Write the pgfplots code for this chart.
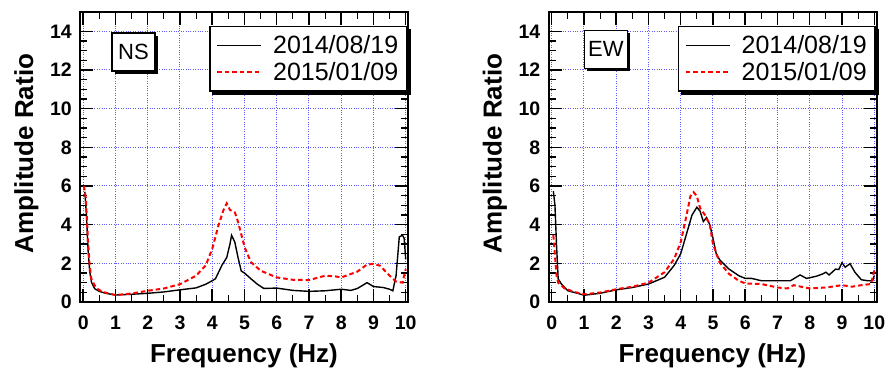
\documentclass[border=0pt]{standalone}
\usepackage{pgfplots}
\pgfplotsset{compat=1.18}
\usepackage{fontspec}
\setmainfont{Liberation Sans}
\usetikzlibrary{shadows}
\definecolor{gridblue}{RGB}{90,90,255}

\tikzset{
 boxlab/.style={draw, line width=1.5pt, fill=white, minimum width=43pt, minimum height=38pt,
   inner sep=2pt, font=\fontsize{22}{22}\selectfont,
   drop shadow={shadow xshift=3pt, shadow yshift=-3pt, fill=black, opacity=1}},
 blk/.style={black, line width=1.4pt},
 rd/.style={red, line width=2pt, dash pattern=on 4.5pt off 3pt},
}

\pgfplotsset{
 myaxis/.style={
  scale only axis, width=328pt, height=290pt,
  xmin=-0.1, xmax=10.07, ymin=0, ymax=15,
  xtick={0,...,10}, ytick={0,2,...,14},
  minor x tick num=1, minor y tick num=3,
  tick align=inside, major tick length=13pt, minor tick length=7pt,
  major tick style={line width=1.5pt, black},
  minor tick style={line width=1.2pt, black},
  axis line style={line width=2pt},
  grid=major, major grid style={gridblue, dotted, line width=1pt},
  /pgf/number format/assume math mode=true,
  ticklabel style={font=\bfseries\fontsize{19.5}{19.5}\selectfont},
  xticklabel style={anchor=base, yshift=-28pt},
  yticklabel style={anchor=east, inner sep=0pt, xshift=-8pt},
  xlabel={Frequency (Hz)}, ylabel={Amplitude Ratio},
  label style={font=\bfseries\fontsize{26}{26}\selectfont},
  xlabel style={at={(axis description cs:0.5,-0.21)}, anchor=base},
  ylabel style={at={(axis description cs:-0.143,0.512)}, anchor=base},
  legend style={at={(0.997,0.952)}, anchor=north east, draw=black, line width=1.5pt, fill=white,
    font=\fontsize{25}{24}\selectfont,
    inner xsep=6pt, inner ysep=7pt, column sep=9pt, row sep=3pt, cells={anchor=west}},
  legend image code/.code={\draw[#1] (0pt,0pt) -- (44pt,0pt);},
 },
}

\pgfplotstableread{
f A
0.05 5.7
0.1 4.5
0.15 2.7
0.2 1.6
0.26 1.0
0.36 0.68
0.5 0.55
0.7 0.45
1.0 0.36
1.5 0.40
2.0 0.45
2.5 0.52
3.0 0.63
3.5 0.73
3.8 0.92
4.0 1.10
4.1 1.20
4.3 1.90
4.45 2.30
4.55 3.00
4.6 3.45
4.7 3.10
4.8 2.30
4.9 1.60
5.0 1.50
5.2 1.20
5.4 0.92
5.6 0.70
6.0 0.72
6.5 0.60
7.0 0.55
7.5 0.58
8.0 0.66
8.3 0.60
8.5 0.70
8.8 1.00
9.0 0.80
9.3 0.75
9.5 0.66
9.6 0.58
9.7 1.36
9.8 3.37
9.9 3.45
9.95 3.3
10.0 2.2
}\nsA

\pgfplotstableread{
f A
0.02 6.0
0.08 5.4
0.15 3.1
0.2 1.9
0.25 1.2
0.4 0.72
0.6 0.52
1.0 0.36
1.5 0.44
2.0 0.58
2.5 0.70
3.0 0.92
3.5 1.36
3.8 1.90
4.0 2.75
4.2 4.00
4.35 4.76
4.45 5.10
4.55 4.76
4.7 4.64
4.8 4.15
5.0 2.85
5.2 2.06
5.5 1.62
6.0 1.27
6.5 1.15
7.0 1.13
7.5 1.36
7.8 1.33
8.0 1.27
8.5 1.57
8.8 1.94
9.0 1.97
9.2 1.88
9.5 1.36
9.7 1.06
9.9 1.00
10.0 1.70
}\nsB

\pgfplotstableread{
f A
0.05 5.73
0.1 5.0
0.15 2.9
0.2 1.2
0.3 0.93
0.5 0.58
0.8 0.45
1.0 0.35
1.5 0.45
2.0 0.63
2.5 0.75
3.0 0.93
3.5 1.28
3.8 1.90
4.0 2.50
4.2 3.64
4.35 4.50
4.5 4.90
4.6 4.70
4.7 4.16
4.8 4.37
4.9 4.00
5.0 3.30
5.1 2.50
5.2 2.20
5.5 1.70
5.8 1.36
6.0 1.22
6.2 1.22
6.5 1.10
7.0 1.10
7.4 1.10
7.7 1.40
7.9 1.22
8.2 1.33
8.4 1.45
8.5 1.54
8.6 1.40
8.8 1.70
8.9 1.68
9.0 2.03
9.1 1.80
9.25 1.98
9.4 1.54
9.6 1.15
9.8 1.10
9.95 1.10
10.0 1.36
}\ewA

\pgfplotstableread{
f A
0.05 3.46
0.1 2.4
0.15 1.36
0.2 1.0
0.4 0.70
0.7 0.52
1.0 0.40
1.5 0.49
2.0 0.66
2.5 0.79
3.0 1.00
3.5 1.54
3.8 2.24
4.0 3.10
4.15 4.25
4.3 5.47
4.4 5.68
4.5 5.47
4.6 4.86
4.75 4.50
4.9 4.00
5.0 3.00
5.2 2.06
5.5 1.45
5.8 1.10
6.0 0.96
6.5 0.93
7.0 0.75
7.3 0.70
7.5 0.87
8.0 0.70
8.5 0.75
9.0 0.87
9.3 0.79
9.6 0.87
9.9 0.93
10.0 1.63
}\ewB

\begin{document}
\begin{tikzpicture}
\useasboundingbox (0pt,0pt) rectangle (888pt,374pt);
\begin{axis}[myaxis, at={(80pt,72pt)}, anchor=south west, legend style={name=L1}]
\addplot[blk] table[x=f,y=A] {\nsA};
\addplot[rd] table[x=f,y=A] {\nsB};
\legend{2014/08/19,2015/01/09}
\node[boxlab] at (rel axis cs:0.163,0.862) {NS};
\end{axis}
\begin{axis}[myaxis, at={(548.5pt,72pt)}, anchor=south west, legend style={name=L2}]
\addplot[blk] table[x=f,y=A] {\ewA};
\addplot[rd] table[x=f,y=A] {\ewB};
\legend{2014/08/19,2015/01/09}
\node[boxlab] at (rel axis cs:0.175,0.871) {EW};
\end{axis}
\foreach \L in {L1,L2}{
 \fill[black] ([xshift=3pt,yshift=0.75pt]\L.south west) rectangle ([xshift=3.75pt,yshift=-3pt]\L.south east);
 \fill[black] ([xshift=0.75pt,yshift=-3pt]\L.north east) rectangle ([xshift=3.75pt,yshift=-3pt]\L.south east);
}
\end{tikzpicture}
\end{document}
